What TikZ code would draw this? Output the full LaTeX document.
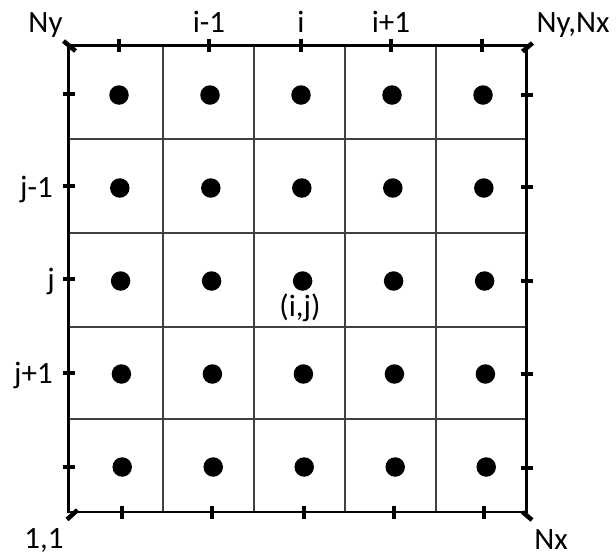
\documentclass[tikz,border=0pt]{standalone}
\usepackage{fontspec}
\setmainfont{Carlito}
\usetikzlibrary{calc}

\begin{document}
\begin{tikzpicture}[
    x=1pt, y=-1pt,
    frame/.style={line width=2.7pt},
    cellline/.style={line width=1.1pt, black!75},
    tickmark/.style={line width=4.5pt},
    cornermark/.style={line width=4.5pt},
    gridpt/.style={circle, fill=black, inner sep=0pt, minimum size=19.5pt},
    lbl/.style={font=\fontsize{31}{36}\selectfont, inner sep=0pt}
]
\useasboundingbox (0,0) rectangle (616,558);

\coordinate (nw) at (68.5,45.5);
\coordinate (ne) at (526.5,45.5);
\coordinate (sw) at (68.5,512);
\coordinate (se) at (526.5,512);

% cells
\foreach \xl in {163,254,345,436}
    \draw[cellline] (\xl,45.5) -- (\xl,512);
\foreach \yl in {139,233,327,419}
    \draw[cellline] (68.5,\yl) -- (526.5,\yl);
\draw[frame] (nw) -- (ne) -- (se) -- (sw) -- cycle;

% ticks
\foreach \tx in {119,209,301,391,482}
    \draw[tickmark] (\tx,39) -- (\tx,52);
\foreach \tx in {122,212,304,394,484}
    \draw[tickmark] (\tx,505.5) -- (\tx,518.5);
\foreach \ty in {94,186,279,373,467}
    \draw[tickmark] (62.5,\ty) -- (74.5,\ty);
\foreach \ty in {95,187,281,374,468}
    \draw[tickmark] (520.5,\ty) -- (532.5,\ty);

\draw[cornermark] ($(nw)+(-5,-4.5)$) -- ($(nw)+(7,5.5)$);
\draw[cornermark] ($(ne)+(-4,6)$) -- ($(ne)+(6,-2.5)$);
\draw[cornermark] ($(sw)+(-1.5,7.5)$) -- ($(sw)+(9,-2)$);
\draw[cornermark] ($(se)+(-4,0)$) -- ($(se)+(5.5,8)$);

% points
\foreach \c in {0,...,4}
    \foreach \r in {0,...,4}
        \node[gridpt] (p\c\r) at ({119+91*\c+0.8*\r},{95+93*\r}) {};

% labels
\node[lbl, anchor=base] (ny) at (45.5,32) {Ny};
\node[lbl, anchor=base] (im) at (209,32) {i-1};
\node[lbl, anchor=base] (ic) at (301,32) {i};
\node[lbl, anchor=base] (ip) at (391,32) {i+1};
\node[lbl, anchor=base] (nynx) at (573,32) {Ny,Nx};
\node[lbl, anchor=base east] (jm) at (53,197) {j-1};
\node[lbl, anchor=base east] (jc) at (55,289) {j};
\node[lbl, anchor=base east] (jp) at (53,383) {j+1};
\node[lbl, anchor=base] (ij) at (300,316) {(i,j)};
\node[lbl, anchor=base] (one) at (44,548) {1,1};
\node[lbl, anchor=base] (nx) at (551,549) {Nx};
\end{tikzpicture}
\end{document}
